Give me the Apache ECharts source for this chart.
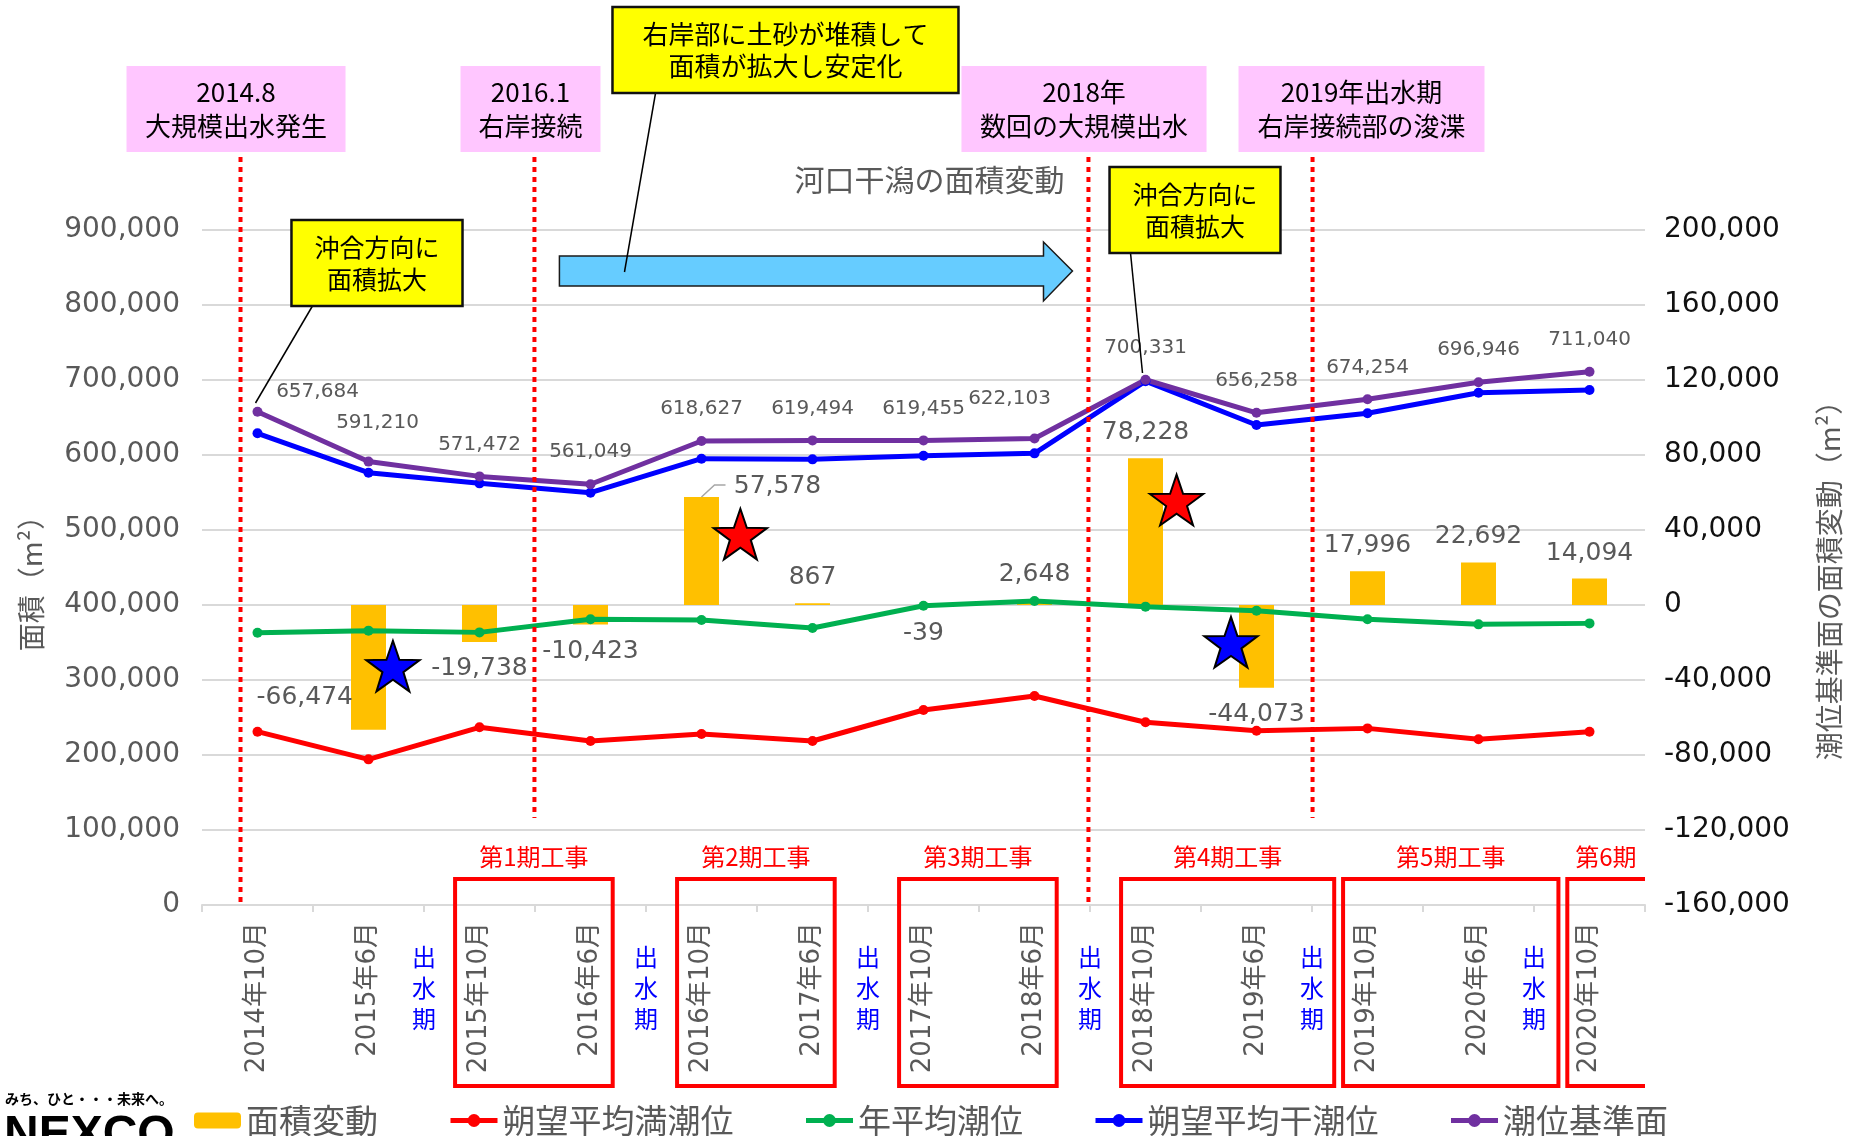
<!DOCTYPE html>
<html><head><meta charset="utf-8">
<script src="https://cdn.jsdelivr.net/npm/echarts@6.0.0/dist/echarts.min.js"></script>
<style>html,body{margin:0;padding:0;background:#fff}#c{width:1859px;height:1136px}</style>
</head><body><div id="c"></div>
<script>
// ---- data ----
const categories = ['2014年10月','2015年6月','2015年10月','2016年6月','2016年10月','2017年6月','2017年10月','2018年6月','2018年10月','2019年6月','2019年10月','2020年6月','2020年10月'];
const areaChange = [null,-66474,-19738,-10423,57578,867,-39,2648,78228,-44073,17996,22692,14094];
const highTide   = [231100,194200,236900,218700,228000,218700,260000,278700,243600,232400,235500,220900,231100];
const meanTide   = [363100,365800,363500,380900,380000,369300,399100,405300,397800,392400,380900,374200,375500];
const lowTide    = [628900,576400,562200,549800,595100,594200,599100,602200,698500,640000,655600,683100,686700];
const datumLevel = [657684,591210,571472,561049,618627,619494,619455,622103,700331,656258,674254,696946,711040];
const leftAxis  = {min:0, max:900000, interval:100000};
const rightAxis = {min:-160000, max:200000, interval:40000};
const seriesNames = ['面積変動','朔望平均満潮位','年平均潮位','朔望平均干潮位','潮位基準面'];

// ---- styles ----
const NUM = "'DejaVu Sans','Noto Sans CJK JP',sans-serif";
const JP = "'Noto Sans CJK JP',sans-serif";
const GRAY = '#595959';
const fmt = v => echarts.format.addCommas(v);

const barLabelOverrides = {1:{position:'left',distance:5,offset:[7,30]}, 4:{position:'top',distance:13,offset:[76,15]}, 6:{distance:16}};
const datumLabelOverrides = {0:{offset:[60,12]}, 1:{offset:[9,-7]}, 7:{offset:[-25,-8]}};

const barData = areaChange.map((v,i)=>{
  if (v === null) return {value:null};
  const base = v >= 0 ? {position:'top',distance:13} : {position:'bottom',distance:14};
  return {value:v, label:Object.assign({}, base, barLabelOverrides[i] || {})};
});
const datumData = datumLevel.map((v,i)=>({value:v, label:Object.assign({}, datumLabelOverrides[i] || {})}));

function lineSeries(name, data, color, extra){
  return Object.assign({
    name, type:'line', data, yAxisIndex:0, symbol:'circle', symbolSize:10,
    lineStyle:{width:5, color}, itemStyle:{color}, z:3
  }, extra || {});
}

const option = {
  animation:false,
  backgroundColor:'#ffffff',
  title:{text:'河口干潟の面積変動', left:'center', top:160,
    textStyle:{fontSize:30, fontWeight:'normal', color:GRAY, fontFamily:JP}},
  grid:{left:202, right:214, top:230, bottom:231},
  legend:{data:seriesNames, left:189, top:1099, itemWidth:47, itemHeight:16, itemGap:70,
    lineStyle:{width:5},
    textStyle:{fontSize:33, color:GRAY, fontFamily:JP}},
  xAxis:{type:'category', data:categories, boundaryGap:true,
    axisLine:{lineStyle:{color:'#d9d9d9', width:2}},
    axisTick:{show:true, length:7, lineStyle:{color:'#d9d9d9', width:2}},
    axisLabel:{rotate:90, interval:0, margin:17, fontSize:26, color:GRAY, fontFamily:NUM}},
  yAxis:[
    {type:'value', min:leftAxis.min, max:leftAxis.max, interval:leftAxis.interval,
     name:'面積（m²）', nameLocation:'middle', nameRotate:90, nameGap:157,
     nameTextStyle:{fontSize:28, color:GRAY, fontFamily:JP, padding:[0,18,0,0]},
     axisLine:{show:false}, axisTick:{show:false},
     axisLabel:{formatter:v=>fmt(v), fontSize:28, color:GRAY, margin:22, fontFamily:NUM},
     splitLine:{lineStyle:{color:'#d9d9d9', width:2}}},
    {type:'value', position:'right', min:rightAxis.min, max:rightAxis.max, interval:rightAxis.interval,
     name:'潮位基準面の面積変動（m²）', nameLocation:'middle', nameRotate:90, nameGap:170,
     nameTextStyle:{fontSize:28, color:GRAY, fontFamily:JP, padding:[0,12,0,0]},
     axisLine:{show:false}, axisTick:{show:false},
     axisLabel:{formatter:v=>fmt(v), fontSize:28, color:'#111', margin:19, fontFamily:NUM},
     splitLine:{show:false}}
  ],
  series:[
    {name:seriesNames[0], type:'bar', yAxisIndex:1, data:barData, barWidth:35,
     itemStyle:{color:'#FFC000'}, z:1,
     label:{show:true, formatter:p=>fmt(p.value), fontSize:25, color:GRAY, fontFamily:NUM}},
    lineSeries(seriesNames[1], highTide, '#FF0000'),
    lineSeries(seriesNames[2], meanTide, '#00B050'),
    lineSeries(seriesNames[3], lowTide, '#0000FF'),
    lineSeries(seriesNames[4], datumData, '#7030A0', {
      label:{show:true, position:'top', distance:17, formatter:p=>fmt(p.value), fontSize:20, color:GRAY, fontFamily:NUM}})
  ]
};

const chart = echarts.init(document.getElementById('c'));
chart.setOption(option);

// ---- annotations (x in category units, y in pixels of the layout) ----
const c0 = chart.convertToPixel({xAxisIndex:0}, categories[0]);
const c1 = chart.convertToPixel({xAxisIndex:0}, categories[1]);
const W = c1 - c0;
const X = u => c0 + u*W;
const YR = v => chart.convertToPixel({yAxisIndex:1}, v);
const YL = v => chart.convertToPixel({yAxisIndex:0}, v);
const gridTop = YL(leftAxis.max), gridBottom = YL(leftAxis.min);

const events = [
  {u:-0.153, box:[-1.18,0.793], lines:['2014.8','大規模出水発生'], full:true},
  {u:2.495, box:[1.829,3.09], lines:['2016.1','右岸接続'], full:false},
  {u:7.486, box:[6.342,8.55], lines:['2018年','数回の大規模出水'], full:true},
  {u:9.505, box:[8.838,11.054], lines:['2019年出水期','右岸接続部の浚渫'], full:false}
];
const yellowBoxes = [
  {box:[3.198,6.315], y:[7,93], lines:['右岸部に土砂が堆積して','面積が拡大し安定化'], fs:26, ptr:[[3.586,93],[3.306,272]]},
  {box:[0.306,1.847], y:[220,306], lines:['沖合方向に','面積拡大'], fs:25, ptr:[[0.495,306],[-0.018,403]]},
  {box:[7.676,9.216], y:[167,253], lines:['沖合方向に','面積拡大'], fs:25, ptr:[[7.865,253],[7.973,373]]}
];
const works = [
  {box:[1.78,3.2], text:'第1期工事'},
  {box:[3.78,5.2], text:'第2期工事'},
  {box:[5.78,7.2], text:'第3期工事'},
  {box:[7.78,9.7], text:'第4期工事'},
  {box:[9.78,11.72], text:'第5期工事'},
  {box:[11.8,null], text:'第6期'}
];
const floodSeasons = [1.5,3.5,5.5,7.5,9.5,11.5];
const stars = [
  {u:4.35, v:36400, color:'#FF0000'},
  {u:1.22, v:-34000, color:'#0000FF'},
  {u:8.28, v:54600, color:'#FF0000'},
  {u:8.77, v:-21300, color:'#0000FF'}
];

function starPoints(cx, cy, R, r){
  const pts = [];
  for (let k=0;k<10;k++){
    const a = -Math.PI/2 + k*Math.PI/5;
    const rad = k%2===0 ? R : r;
    pts.push([cx + rad*Math.cos(a), cy + rad*Math.sin(a)]);
  }
  return pts;
}
function txt(text, x, y, fs, fill, extra){
  return {type:'text', z:50, style:Object.assign({text, x, y, fontSize:fs, fontFamily:JP, fill,
    align:'center', verticalAlign:'middle'}, extra || {})};
}

const g = [];
events.forEach(e=>{
  const x = X(e.u);
  g.push({type:'line', z:40, shape:{x1:x, y1:157, x2:x, y2: e.full ? gridBottom : 818},
    style:{stroke:'#FF0000', lineWidth:4, lineDash:[5,5]}});
  const x1 = X(e.box[0]), x2 = X(e.box[1]);
  g.push({type:'rect', z:40, shape:{x:x1, y:66, width:x2-x1, height:86}, style:{fill:'#FFC6FF'}});
  g.push(txt(e.lines.join('\n'), (x1+x2)/2, 109, 26, '#000', {lineHeight:34}));
});
(function(){
  const xl = X(2.72), xs = X(7.081), xt = X(7.342);
  g.push({type:'polygon', z:41, shape:{points:[[xl,256],[xs,256],[xs,242],[xt,271],[xs,301],[xs,286],[xl,286]]},
    style:{fill:'#66CCFF', stroke:'#1a1a1a', lineWidth:1.5}});
})();
yellowBoxes.forEach(b=>{
  const x1 = X(b.box[0]), x2 = X(b.box[1]);
  g.push({type:'line', z:45, shape:{x1:X(b.ptr[0][0]), y1:b.ptr[0][1], x2:X(b.ptr[1][0]), y2:b.ptr[1][1]},
    style:{stroke:'#000', lineWidth:1.5}});
  g.push({type:'rect', z:46, shape:{x:x1, y:b.y[0], width:x2-x1, height:b.y[1]-b.y[0]},
    style:{fill:'#FFFF00', stroke:'#111', lineWidth:2.5}});
  g.push(txt(b.lines.join('\n'), (x1+x2)/2, (b.y[0]+b.y[1])/2, b.fs, '#000', {lineHeight:32}));
});
works.forEach(w=>{
  const x1 = X(w.box[0]);
  if (w.box[1] !== null){
    const x2 = X(w.box[1]);
    g.push({type:'rect', z:40, shape:{x:x1, y:879, width:x2-x1, height:207},
      style:{fill:'transparent', stroke:'#FF0000', lineWidth:4}});
    g.push(txt(w.text, (x1+x2)/2, 857, 24, '#FF0000'));
  } else {
    const xr = X(12.5);
    g.push({type:'polyline', z:40, shape:{points:[[xr,879],[x1,879],[x1,1086],[xr,1086]]},
      style:{stroke:'#FF0000', lineWidth:4, fill:null}});
    g.push(txt(w.text, x1+8, 857, 24, '#FF0000', {align:'left'}));
  }
});
floodSeasons.forEach(u=>{
  g.push(txt('出\n水\n期', X(u), 988, 24, '#0000FF', {lineHeight:31}));
});
stars.forEach(s=>{
  g.push({type:'polygon', z:60, shape:{points:starPoints(X(s.u), YR(s.v), 28, 11)},
    style:{fill:s.color, stroke:'#000', lineWidth:2}});
});
(function(){
  const bx = X(4), by = YR(areaChange[4]);
  g.push({type:'polyline', z:45, shape:{points:[[bx,by],[bx+13,by-12],[bx+24,by-12]]},
    style:{stroke:'#a6a6a6', lineWidth:1.5, fill:null}});
})();
g.push({type:'text', z:50, style:{text:'みち、ひと・・・未来へ。', x:5, y:1099, fontSize:14, fontWeight:'bold',
  fontFamily:JP, fill:'#000', align:'left', verticalAlign:'middle'}});
g.push({type:'text', z:50, style:{text:'NEXCO', x:4, y:1112, fontSize:48, fontWeight:'bold',
  fontFamily:"'Liberation Sans',sans-serif", fill:'#000', align:'left', verticalAlign:'top'}});

chart.setOption({graphic:g});
</script>
</body></html>
